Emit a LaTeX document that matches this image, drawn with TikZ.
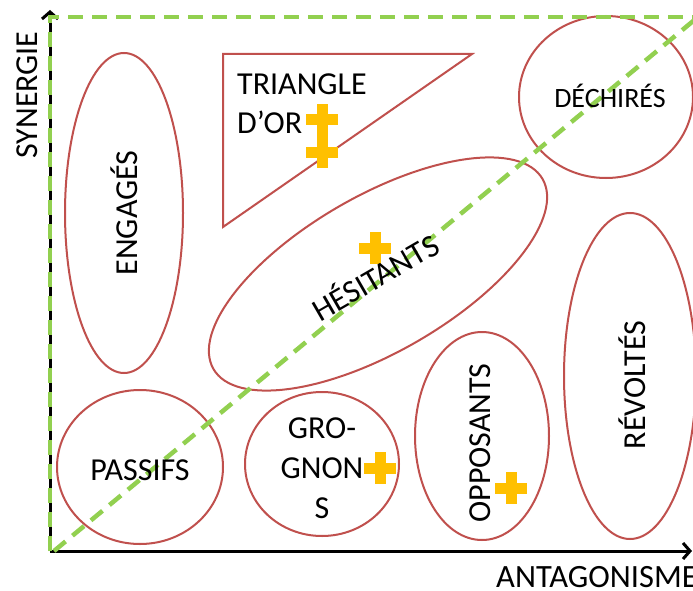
\documentclass[tikz,border=0pt]{standalone}
\usepackage{fontspec}
\setmainfont{Carlito}
\usetikzlibrary{arrows.meta}
\definecolor{ered}{HTML}{C0504D}
\definecolor{egreen}{HTML}{92D050}
\definecolor{egold}{HTML}{FFC000}
\tikzset{
  redshape/.style={draw=ered, line width=2pt},
  lbl/.style={font=\fontsize{32}{38}\selectfont, inner sep=0pt, anchor=base, text=black},
  greendash/.style={draw=egreen, line width=4.5pt, dash pattern=on 15pt off 9pt},
  axisline/.style={draw=black, line width=3pt, -{Straight Barb[length=7pt,width=16pt,line width=3pt]}},
  goldplus/.pic={\fill[egold] (-16,-5.5) rectangle (16,5.5); \fill[egold] (-5.5,-16) rectangle (5.5,16);}
}
\begin{document}
\begin{tikzpicture}[x=1pt,y=-1pt]
\useasboundingbox[fill=white] (0,0) rectangle (693,591);
% shapes
\draw[redshape] (124,213) ellipse [x radius=59, y radius=160];
\draw[redshape] (223,54) -- (472,54) -- (223,227) -- cycle;
\draw[redshape] (606,97) ellipse [x radius=87, y radius=81];
\draw[redshape, rotate around={30:(378,274)}] (378,274) ellipse [x radius=190, y radius=78];
\draw[redshape] (630,376) ellipse [x radius=66, y radius=163];
\draw[redshape] (140,467) ellipse [x radius=83, y radius=77];
\draw[redshape] (322,464) ellipse [x radius=77, y radius=72];
\draw[redshape] (482,436) ellipse [x radius=67, y radius=104];
% axes
\coordinate (o) at (50,551);
\coordinate (ytip) at (50,10);
\coordinate (xtip) at (692,551);
\draw[axisline] (o) -- (ytip);
\draw[axisline] (o) -- (xtip);
% green dashed lines
\coordinate (gtop) at (50,17);
\coordinate (gright) at (700,17);
\coordinate (dstart) at (54,551);
\coordinate (dend) at (698,17);
\draw[greendash] (o) -- (gtop) -- (gright);
\draw[greendash] (dstart) -- (dend);
% plus marks
\pic at (322,120) {goldplus};
\pic at (322,152) {goldplus};
\pic at (375,248) {goldplus};
\pic at (380,468) {goldplus};
\pic at (511,488) {goldplus};
% labels
\node[lbl, rotate=90] (syn) at (37,95) {SYNERGIE};
\node[lbl, anchor=base west, font=\fontsize{32.5}{38}\selectfont] (ant) at (496,587) {ANTAGONISME};
\node[lbl, rotate=90] (eng) at (137,213) {ENGAGÉS};
\node[lbl, anchor=base west] (tri1) at (237,95) {TRIANGLE};
\node[lbl, anchor=base west] (tri2) at (237,133) {D’OR};
\node[lbl, font=\fontsize{28}{34}\selectfont] (dech) at (610,108) {DÉCHIRÉS};
\node[lbl, rotate=30] (hes) at (381,287) {HÉSITANTS};
\node[lbl, rotate=90] (rev) at (645,385) {RÉVOLTÉS};
\node[lbl] (pas) at (140,480) {PASSIFS};
\node[lbl] (gro1) at (322,438) {GRO-};
\node[lbl] (gro2) at (322,478) {GNON};
\node[lbl] (gro3) at (322,518) {S};
\node[lbl, rotate=90] (opp) at (490,443) {OPPOSANTS};
\end{tikzpicture}
\end{document}
